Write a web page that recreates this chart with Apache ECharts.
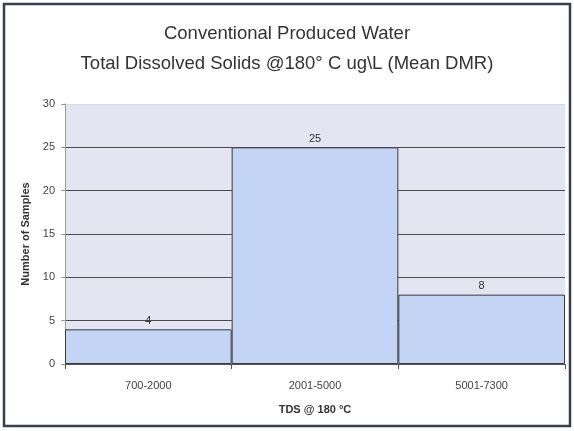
<!DOCTYPE html>
<html>
<head>
<meta charset="utf-8">
<script src="https://cdn.jsdelivr.net/npm/echarts@6/dist/echarts.min.js"></script>
<style>
html, body { margin: 0; padding: 0; background: #fff; }
#main { width: 574px; height: 431px; }
</style>
</head>
<body>
<div id="main"></div>
<script>
// 数据
var categories = ['700-2000', '2001-5000', '5001-7300'];
var samples = [4, 25, 8];
var yTicks = [0, 5, 10, 15, 20, 25, 30];

var myChart = echarts.init(document.getElementById('main'));
var option = {
	backgroundColor: '#ffffff',
	animation: false,
	textStyle: { fontFamily: 'Liberation Sans, Arial, sans-serif' },
	title: {
		text: 'Conventional Produced Water\nTotal Dissolved Solids @180\u00B0 C ug\\L (Mean DMR)',
		left: 'center',
		top: 14,
		textStyle: {
			fontSize: 18.5,
			fontWeight: 'normal',
			color: '#333',
			lineHeight: 30
		}
	},
	graphic: [{
		type: 'rect',
		shape: { x: 4, y: 4, width: 566, height: 422 },
		style: { fill: 'none', stroke: '#3a3f4f', lineWidth: 2.5 },
		silent: true
	}],
	grid: {
		left: 65,
		right: 9,
		top: 104,
		bottom: 67,
		show: true,
		backgroundColor: '#e3e6f2',
		borderWidth: 0
	},
	xAxis: {
		type: 'category',
		data: categories,
		name: 'TDS @ 180 \u00B0C',
		nameLocation: 'middle',
		nameGap: 40,
		nameTextStyle: { fontSize: 11, fontWeight: 'bold', color: '#333' },
		axisLine: { lineStyle: { color: '#555', width: 1 } },
		axisTick: { show: true, alignWithLabel: false, length: 5, lineStyle: { color: '#555' } },
		axisLabel: { fontSize: 11, color: '#444', margin: 16 }
	},
	yAxis: {
		type: 'value',
		min: 0,
		max: yTicks[yTicks.length - 1],
		interval: 5,
		name: 'Number of Samples',
		nameLocation: 'middle',
		nameGap: 33,
		nameTextStyle: { fontSize: 11, fontWeight: 'bold', color: '#333' },
		axisLine: { show: true, lineStyle: { color: '#999' } },
		axisTick: { show: true, length: 4, lineStyle: { color: '#999' } },
		axisLabel: { fontSize: 11, color: '#444', margin: 10 },
		splitLine: {
			show: true,
			lineStyle: {
				// 顶部30那条线不显示深色
				color: ['#4a4a48', '#4a4a48', '#4a4a48', '#4a4a48', '#4a4a48', '#4a4a48', '#d5d8e8'],
				width: 1
			}
		}
	},
	series: [{
		type: 'bar',
		data: samples,
		barCategoryGap: '0%',
		itemStyle: {
			color: '#c4d4f4',
			borderColor: '#3a3a3a',
			borderWidth: 1
		},
		label: {
			show: true,
			position: 'top',
			fontSize: 11,
			color: '#333',
			distance: 3
		}
	}]
};
myChart.setOption(option, true);
</script>
</body>
</html>
